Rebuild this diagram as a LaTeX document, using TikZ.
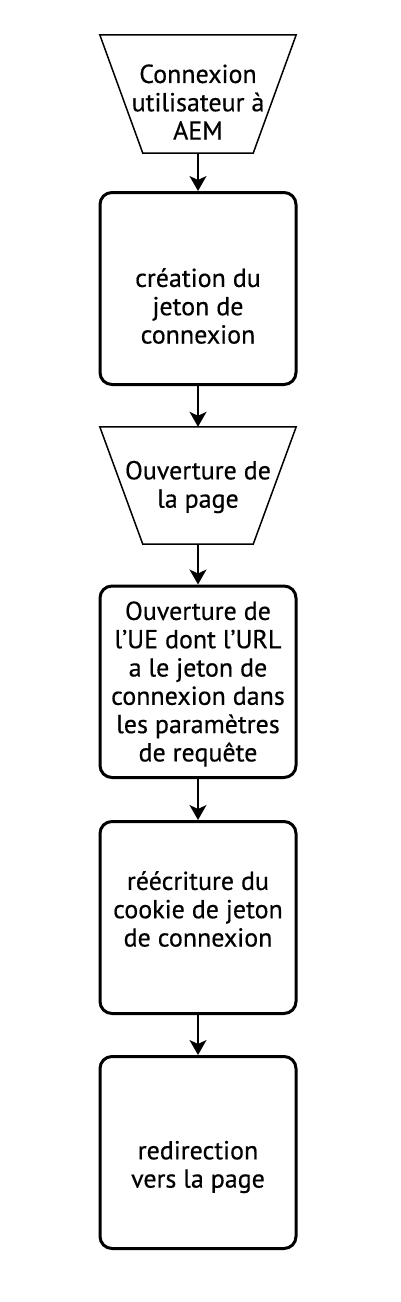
\documentclass[tikz,border=0pt]{standalone}
\usepackage{fontspec}
\setmainfont[FakeBold=0.45]{PT Sans}
\usetikzlibrary{arrows.meta}
\begin{document}
\begin{tikzpicture}[x=1pt,y=-1pt,
  boxstyle/.style={draw, line width=3pt, rounded corners=12pt, minimum width=196pt, inner sep=0pt},
  trapbox/.style={minimum width=196pt, minimum height=118pt, inner sep=0pt},
  trapline/.style={draw, line width=1.5pt, line join=miter},
  lbl/.style={align=center, font=\fontsize{26}{28.3}\selectfont, inner sep=0pt},
  conn/.style={line width=1.5pt, -{Stealth[length=15pt,width=17pt,inset=4pt]}}
]
\useasboundingbox (0,0) rectangle (400,1302);
% shapes
\node[trapbox] (t1) at (198,94) {};
\draw[trapline] (t1.north west) -- (t1.north east) -- ([xshift=-43pt]t1.south east) -- ([xshift=43pt]t1.south west) -- cycle;
\node[boxstyle, minimum height=192pt] (b2) at (198,288.5) {};
\node[trapbox, minimum height=117pt] (t2) at (198,485.5) {};
\draw[trapline] (t2.north west) -- (t2.north east) -- ([xshift=-43pt]t2.south east) -- ([xshift=43pt]t2.south west) -- cycle;
\node[boxstyle, minimum height=191.5pt] (b4) at (198,681.75) {};
\node[boxstyle, minimum height=192pt] (b5) at (198,917.5) {};
\node[boxstyle, minimum height=192pt] (b6) at (198,1152.5) {};
% texts
\node[lbl] (l1) at (198,102) {Connexion\\utilisateur à\\AEM};
\node[lbl] (l2) at (198,306) {création du\\jeton de\\connexion};
\node[lbl] (l3) at (198,487) {Ouverture de\\la page};
\node[lbl] (l4) at (198,684) {Ouverture de\\l’UE dont l’URL\\a le jeton de\\connexion dans\\les paramètres\\de requête};
\node[lbl] (l5) at (198,909) {réécriture du\\cookie de jeton\\de connexion};
\node[lbl] (l6) at (198,1167) {redirection\\vers la page};
% connectors
\draw[conn] (t1.south) -- (b2.north);
\draw[conn] (b2.south) -- (t2.north);
\draw[conn] (t2.south) -- (b4.north);
\draw[conn] (b4.south) -- (b5.north);
\draw[conn] (b5.south) -- (b6.north);
\end{tikzpicture}
\end{document}
